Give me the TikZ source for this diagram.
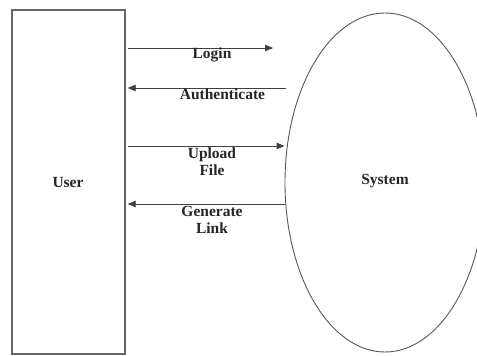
\documentclass[tikz,border=0pt]{standalone}
\usepackage{fontspec}
\setmainfont{Liberation Serif}
\usetikzlibrary{shapes.geometric,arrows.meta}
\begin{document}
\begin{tikzpicture}[x=1pt,y=-1pt,
  lbl/.style={font=\fontsize{15.5}{17}\selectfont\bfseries, text=black!85, align=center, inner sep=0pt},
  flow/.style={draw=black!75, line width=0.9pt, -{Triangle[length=8pt,width=6.5pt]}},
  ent/.style={draw=black!60, line width=1.4pt, rectangle, minimum width=113pt, minimum height=344pt, inner sep=0pt},
  proc/.style={draw=black!65, line width=0.9pt, ellipse, minimum width=200pt, minimum height=339pt, inner sep=0pt}]
\fill[white] (0,0) rectangle (477,356);
\useasboundingbox (0,0) rectangle (477,356);
\clip (0,0) rectangle (477,356);
\node[ent] (user) at (68.5,182) {};
\node[lbl] (userlbl) at (68,182) {User};
\node[proc] (sys) at (385,182.5) {};
\node[lbl] (syslbl) at (385,181) {System};
\coordinate (loginEnd) at (273,48);
\coordinate (authStart) at (286,88);
\draw[flow, shorten <=2pt] (user.east |- loginEnd) -- (loginEnd);
\draw[flow, shorten >=2pt] (authStart) -- (user.east |- authStart);
\coordinate (upY) at (0,146);
\coordinate (genY) at (0,204);
\draw[flow, shorten <=2pt] (user.east |- upY) -- (sys.west |- upY);
\draw[flow, shorten >=2pt] (sys.west |- genY) -- (user.east |- genY);
\node[lbl] (l1) at (212,55) {Login};
\node[lbl] (l2) at (222.5,94) {Authenticate};
\node[lbl] (l3) at (212,161.5) {Upload\\File};
\node[lbl] (l4) at (212,219.5) {Generate\\Link};
\end{tikzpicture}
\end{document}
